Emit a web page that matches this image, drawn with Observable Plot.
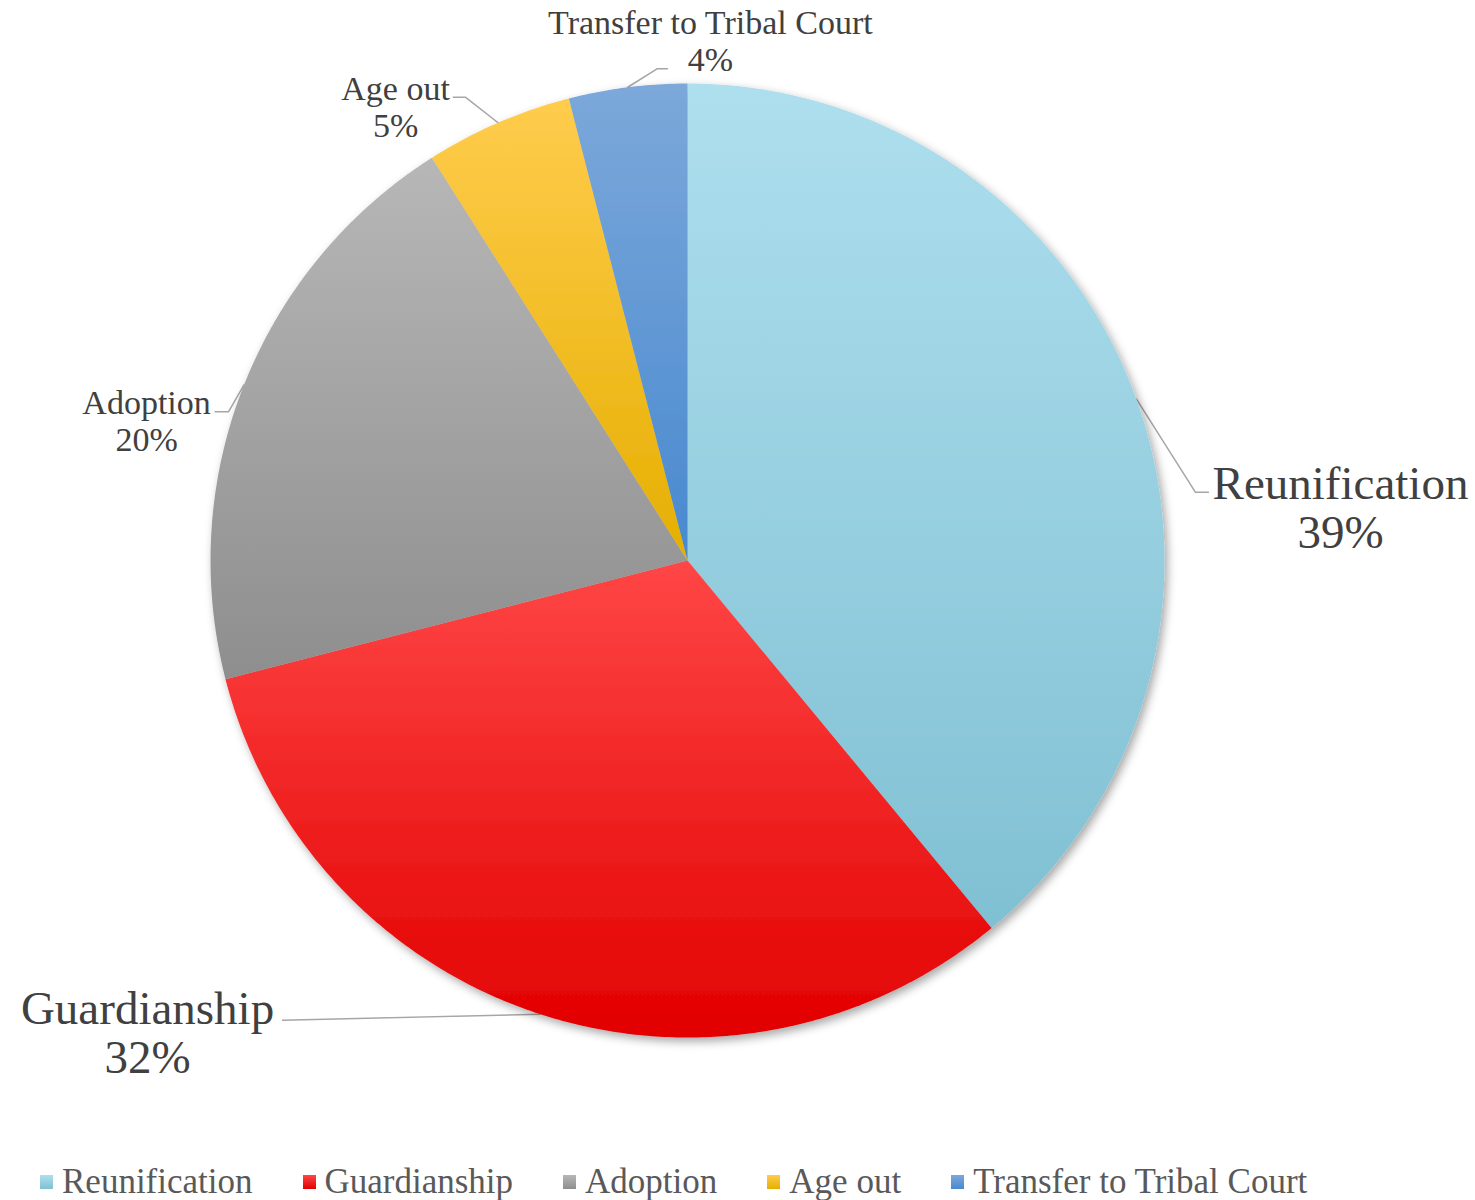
<!DOCTYPE html>
<html>
<head>
<meta charset="utf-8">
<script src="https://cdn.jsdelivr.net/npm/d3@7"></script>
<script src="https://cdn.jsdelivr.net/npm/@observablehq/plot@0.6"></script>
<style>
  html, body { margin: 0; padding: 0; background: #fff; }
  #chart { width: 1475px; }
  #legend { display: flex; align-items: center; gap: 50px; padding-left: 40px; height: 45px; padding-top: 4px;
            font-family: "Liberation Serif", serif; font-size: 35px; color: #595959; }
  .item { display: flex; align-items: center; gap: 9px; white-space: nowrap; }
  .sw { width: 13px; height: 14px; }
</style>
</head>
<body>
<div id="chart"></div>
<script>
// ---- data ----
const categories = ["Reunification", "Guardianship", "Adoption", "Age out", "Transfer to Tribal Court"];
const percents = [39, 32, 20, 5, 4];
const gradTop = ["#AEDFEE", "#FF4646", "#B7B7B7", "#FFCC4D", "#7CA8DA"];
const gradBottom = ["#80C0D3", "#E20000", "#8E8E8E", "#E5AF00", "#4889CF"];

// ---- layout (unit coordinates, pie radius = 1) ----
const labelLayout = [
  {text: [1.369, 0.111], elbow: [1.065, 0.143], end: [1.092, 0.143], big: true},
  {text: [-1.132, -0.990], elbow: [-0.849, -0.964], end: [-0.849, -0.964], big: true},
  {text: [-1.134, 0.294], elbow: [-0.962, 0.312], end: [-0.990, 0.312], big: false},
  {text: [-0.612, 0.951], elbow: [-0.465, 0.971], end: [-0.491, 0.971], big: false},
  {text: [0.048, 1.090], elbow: [-0.063, 1.031], end: [-0.042, 1.031], big: false}
];

const W = 1475, H = 1155, R = 477, CX = 687, CY = 560;

const table = categories.map((name, i) => ({name, value: percents[i]}));
const arcs = d3.pie().sort(null).value(d => d.value)(table);

// slice outlines as point sequences (center + arc)
const slicePts = [];
arcs.forEach(a => {
  const n = Math.max(8, Math.ceil((a.endAngle - a.startAngle) / (2 * Math.PI) * 720));
  slicePts.push({name: a.data.name, x: 0, y: 0});
  for (let k = 0; k <= n; k++) {
    const t = a.startAngle + (a.endAngle - a.startAngle) * k / n;
    slicePts.push({name: a.data.name, x: Math.sin(t), y: Math.cos(t)});
  }
});

// leader lines
const leaderPts = [];
arcs.forEach((a, i) => {
  const m = (a.startAngle + a.endAngle) / 2;
  const L = labelLayout[i];
  leaderPts.push({name: a.data.name, x: Math.sin(m), y: Math.cos(m)});
  leaderPts.push({name: a.data.name, x: L.elbow[0], y: L.elbow[1]});
  leaderPts.push({name: a.data.name, x: L.end[0], y: L.end[1]});
});

const labels = arcs.map((a, i) => ({
  name: a.data.name, label: a.data.name + "\n" + a.data.value + "%",
  x: labelLayout[i].text[0], y: labelLayout[i].text[1], big: labelLayout[i].big
}));

const gradIds = categories.map((_, i) => "pieGrad" + i);

const svg = Plot.plot({
  width: W, height: H,
  margin: 0,
  x: {domain: [-CX / R, (W - CX) / R], axis: null},
  y: {domain: [-(H - CY) / R, CY / R], axis: null},
  color: {type: "ordinal", domain: categories, range: gradIds.map(id => `url(#${id})`)},
  marks: [
    Plot.line(leaderPts, {x: "x", y: "y", z: "name", stroke: "#A6A6A6", strokeWidth: 1.5, curve: "linear"}),
    Plot.line(slicePts, {x: "x", y: "y", z: "name", fill: "name", stroke: "none", curve: "linear"}),
    Plot.text(labels.filter(d => d.big), {x: "x", y: "y", text: "label", fontSize: 47, lineHeight: 1.045,
      fontFamily: "Liberation Serif", fill: "#404040", textAnchor: "middle"}),
    Plot.text(labels.filter(d => !d.big), {x: "x", y: "y", text: "label", fontSize: 34, lineHeight: 1.09,
      fontFamily: "Liberation Serif", fill: "#404040", textAnchor: "middle"})
  ]
});

// gradients + soft shadow
const ns = "http://www.w3.org/2000/svg";
const defs = document.createElementNS(ns, "defs");
gradIds.forEach((id, i) => {
  const g = document.createElementNS(ns, "linearGradient");
  g.setAttribute("id", id);
  g.setAttribute("x1", "0"); g.setAttribute("y1", "0"); g.setAttribute("x2", "0"); g.setAttribute("y2", "1");
  [[0, gradTop[i]], [1, gradBottom[i]]].forEach(([o, c]) => {
    const s = document.createElementNS(ns, "stop");
    s.setAttribute("offset", o); s.setAttribute("stop-color", c);
    g.appendChild(s);
  });
  defs.appendChild(g);
});
const f = document.createElementNS(ns, "filter");
f.setAttribute("id", "pieShadow");
f.setAttribute("x", "-10%"); f.setAttribute("y", "-10%"); f.setAttribute("width", "120%"); f.setAttribute("height", "120%");
const ds = document.createElementNS(ns, "feDropShadow");
ds.setAttribute("dx", "3"); ds.setAttribute("dy", "4"); ds.setAttribute("stdDeviation", "5");
ds.setAttribute("flood-color", "#000"); ds.setAttribute("flood-opacity", "0.35");
f.appendChild(ds);
defs.appendChild(f);
svg.insertBefore(defs, svg.firstChild);
const lineGroups = svg.querySelectorAll('g[aria-label="line"]');
if (lineGroups[1]) lineGroups[1].setAttribute("filter", "url(#pieShadow)");

document.getElementById("chart").appendChild(svg);

// legend
const legend = document.createElement("div");
legend.id = "legend";
categories.forEach((name, i) => {
  const it = document.createElement("div");
  it.className = "item";
  const sw = document.createElement("span");
  sw.className = "sw";
  sw.style.background = `linear-gradient(${gradTop[i]}, ${gradBottom[i]})`;
  const tx = document.createElement("span");
  tx.textContent = name;
  it.appendChild(sw); it.appendChild(tx);
  legend.appendChild(it);
});
document.getElementById("chart").appendChild(legend);
</script>
</body>
</html>
